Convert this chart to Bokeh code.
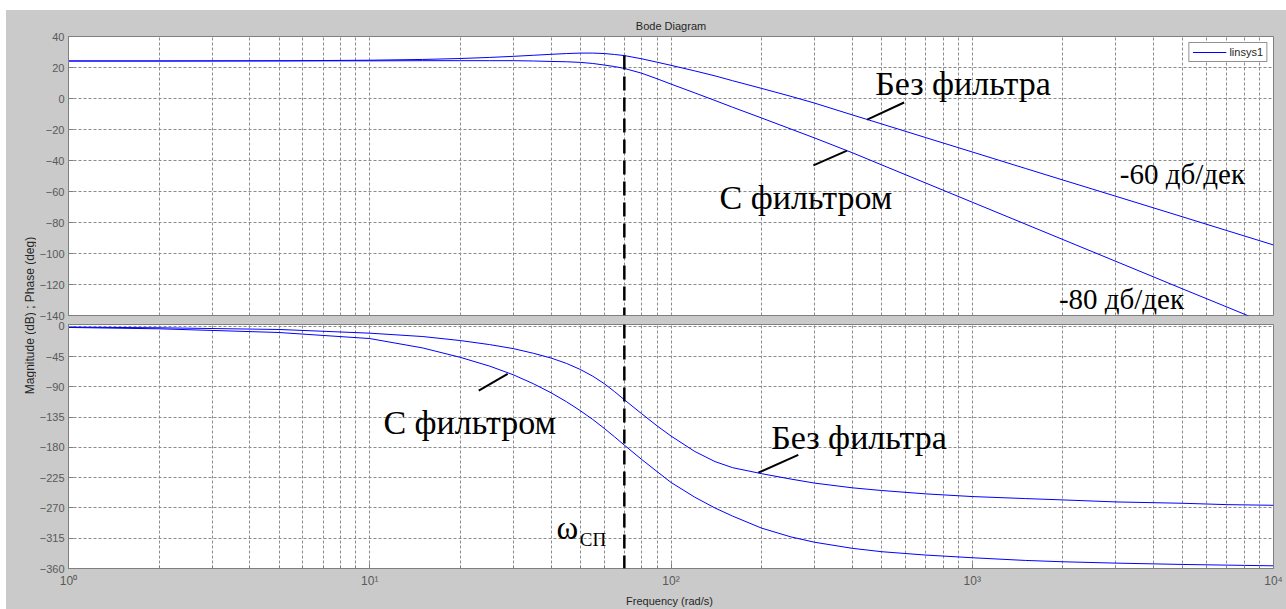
import math
from bokeh.plotting import figure
from bokeh.models import (Range1d, FixedTicker, Label, Legend, LegendItem, Span,
                          Spacer)
from bokeh.layouts import column, row
from bokeh.embed import file_html
from bokeh.resources import INLINE

# ---- data -------------------------------------------------------------
freq = [1, 2, 5, 10, 15, 20, 25, 30, 35, 40, 45, 50, 55, 60, 65, 70, 80, 90,
        100, 120, 140, 160, 200, 250, 300, 400, 500, 700, 1000, 1500, 2000,
        3000, 5000, 7000, 10000]

# magnitude, dB
mag_nofilt = [24.2, 24.2, 24.3, 24.7, 25.2, 25.8, 26.5, 27.2, 27.9, 28.5,
              29.0, 29.3, 29.3, 29.0, 28.4, 27.7, 25.6, 23.4, 21.4, 17.8,
              14.6, 11.5, 6.5, 1.4, -3.0, -10.6, -16.4, -25.2, -34.5, -45.1,
              -52.6, -63.1, -76.4, -85.2, -94.5]
mag_filt = [24.2, 24.2, 24.3, 24.3, 24.4, 24.4, 24.4, 24.4, 24.2, 23.9,
            23.7, 23.3, 22.6, 21.6, 20.6, 19.4, 16.3, 12.7, 9.3, 3.6,
            -1.3, -5.6, -12.6, -19.7, -25.5, -35.0, -42.8, -54.5, -66.9,
            -81.0, -91.0, -105.1, -122.9, -134.5, -146.9]

# phase, deg
phase_nofilt = [-1, -2, -4.5, -10, -15, -21, -27, -33, -40, -47, -55, -64,
                -74, -85, -97, -109, -130, -148, -163, -186, -201, -210,
                -219, -227, -233, -240, -244, -249, -253, -256, -258, -261,
                -263, -265, -266]
phase_filt = [-1.5, -3.5, -9, -18, -32, -46, -59, -72, -85.4, -98.7, -112,
              -125.3, -138.4, -151.5, -164.3, -176.5, -198, -216, -232, -254,
              -270, -282, -300, -313, -321, -330, -335, -340, -344, -348,
              -350, -352, -354, -355, -356]

mag_ticks = [40, 20, 0, -20, -40, -60, -80, -100, -120, -140]
phase_ticks = [0, -45, -90, -135, -180, -225, -270, -315, -360]
decade_ticks = [1, 10, 100, 1000, 10000]
decade_labels = ["10\u2070", "10\u00b9", "10\u00b2", "10\u00b3", "10\u2074"]
omega_c = 70

# ---- styling ----------------------------------------------------------
BG = "#cacaca"
AX = "#7f7f7f"
GRID = "#8c8c8c"
TXT = "#262626"
TICKTXT = "#595959"
BLUE = "#0000ff"
SANS = "Liberation Sans"
SERIF = "Liberation Serif"

minor_ticks = [m * 10 ** k for k in range(4) for m in range(2, 10)]
x_ticker = FixedTicker(ticks=decade_ticks, minor_ticks=minor_ticks)


def style_panel(p, yticks):
    p.background_fill_color = "white"
    p.border_fill_color = BG
    p.outline_line_color = AX
    p.outline_line_width = 1
    p.yaxis.ticker = FixedTicker(ticks=yticks)
    p.xaxis.ticker = x_ticker
    for ax in p.yaxis:
        ax.axis_line_color = AX
        ax.major_tick_in = 5
        ax.major_tick_out = 0
        ax.major_tick_line_color = AX
        ax.minor_tick_line_color = None
        ax.major_label_text_font = SANS
        ax.major_label_text_font_size = "11px"
        ax.major_label_text_color = TICKTXT
        ax.major_label_standoff = 4
    p.ygrid.grid_line_color = GRID
    p.ygrid.grid_line_dash = "3 2"
    p.ygrid.ticker = FixedTicker(ticks=yticks)
    p.xgrid.grid_line_color = GRID
    p.xgrid.grid_line_dash = "3 2"
    p.xgrid.minor_grid_line_color = GRID
    p.xgrid.minor_grid_line_dash = "3 2"
    p.xgrid.ticker = x_ticker


def note(p, x, y, text, size):
    p.add_layout(Label(x=x, y=y, text=text, text_font=SERIF,
                       text_font_size=size, text_color="black",
                       text_baseline="alphabetic", text_align="left"))


# ---- magnitude panel --------------------------------------------------
top = figure(width=1250, height=311, x_axis_type="log",
             x_range=Range1d(1, 10000), y_range=Range1d(-140, 40),
             output_backend="svg", toolbar_location=None,
             min_border_left=30, min_border_right=13,
             min_border_top=26, min_border_bottom=6)
style_panel(top, mag_ticks)
top.xaxis.visible = False

top.title.text = "Bode Diagram"
top.title.align = "center"
top.title.text_font = SANS
top.title.text_font_size = "11px"
top.title.text_font_style = "normal"
top.title.text_color = TXT
top.title.standoff = 9

r_mag = top.line(freq, mag_nofilt, line_color=BLUE, line_width=1)
top.line(freq, mag_filt, line_color=BLUE, line_width=1)

mag_at_c = mag_nofilt[freq.index(omega_c)]
top.segment(x0=[omega_c], y0=[mag_at_c], x1=[omega_c], y1=[-140],
            line_color="black", line_width=2.5, line_dash="14 7")

legend = Legend(items=[LegendItem(label="linsys1", renderers=[r_mag])],
                location="top_right", margin=6, padding=3, spacing=0,
                glyph_width=34, glyph_height=12, label_standoff=3,
                label_text_font=SANS, label_text_font_size="11px",
                label_text_color=TXT, border_line_color=TXT,
                border_line_width=1, background_fill_color="white",
                background_fill_alpha=1)
top.add_layout(legend)

note(top, 476, 9.7, "Без фильтра", "34px")
note(top, 145, -63.8, "С фильтром", "34px")
note(top, 3090, -48.4, "-60 дб/дек", "29px")
note(top, 1939, -129.6, "-80 дб/дек", "29px")
top.segment(x0=[448, 297], y0=[-13.6, -43.2], x1=[594, 384], y1=[-2.6, -33.6],
            line_color="black", line_width=2)

# ---- phase panel ------------------------------------------------------
bot = figure(width=1250, height=288, x_axis_type="log",
             x_range=Range1d(1, 10000), y_range=Range1d(-360, 2.9),
             output_backend="svg", toolbar_location=None,
             min_border_left=30, min_border_right=13,
             min_border_top=3, min_border_bottom=38)
style_panel(bot, phase_ticks)

xa = bot.xaxis[0]
xa.major_label_overrides = {t: s for t, s in zip(decade_ticks, decade_labels)}
xa.axis_line_color = AX
xa.major_tick_in = 5
xa.major_tick_out = 0
xa.minor_tick_in = 3
xa.minor_tick_out = 0
xa.major_tick_line_color = AX
xa.minor_tick_line_color = AX
xa.major_label_text_font = SANS
xa.major_label_text_font_size = "12px"
xa.major_label_text_color = TICKTXT
xa.major_label_standoff = 5
xa.axis_label = "Frequency  (rad/s)"
xa.axis_label_text_font = SANS
xa.axis_label_text_font_size = "11px"
xa.axis_label_text_font_style = "normal"
xa.axis_label_text_color = TXT
xa.axis_label_standoff = 4

bot.line(freq, phase_nofilt, line_color=BLUE, line_width=1)
bot.line(freq, phase_filt, line_color=BLUE, line_width=1)

bot.add_layout(Span(location=omega_c, dimension="height", line_color="black",
                    line_width=2.5, line_dash="14 7"))

note(bot, 11.1, -142.5, "С фильтром", "34px")
note(bot, 215, -165, "Без фильтра", "34px")
note(bot, 41.7, -300, "ω", "33px")
note(bot, 49.8, -317.4, "СП", "19px")
bot.segment(x0=[23.0, 195], y0=[-95.5, -217.5], x1=[28.7, 264.6],
            y1=[-70.5, -191], line_color="black", line_width=2)

# ---- shared y label column ---------------------------------------------
side = figure(width=30, height=599, x_range=Range1d(0, 30),
              y_range=Range1d(0, 599), output_backend="svg",
              toolbar_location=None, min_border=0)
side.axis.visible = False
side.grid.visible = False
side.outline_line_color = None
side.background_fill_color = BG
side.border_fill_color = BG
side.add_layout(Label(x=23, y=294, text="Magnitude (dB) ; Phase (deg)",
                      angle=math.pi / 2, text_align="center",
                      text_baseline="middle", text_font=SANS,
                      text_font_size="12px", text_color=TXT))

body = row(Spacer(width=6, height=599, styles={"background-color": "white"}),
           side, column(top, bot))
layout = column(Spacer(width=1286, height=10,
                       styles={"background-color": "white"}), body)

page_style = """{% block postamble %}
<style>html, body { margin: 0; padding: 0; overflow: hidden;
background-color: #cacaca; }</style>
{% endblock %}"""

open("out.html", "w").write(file_html(layout, INLINE, template=page_style))
